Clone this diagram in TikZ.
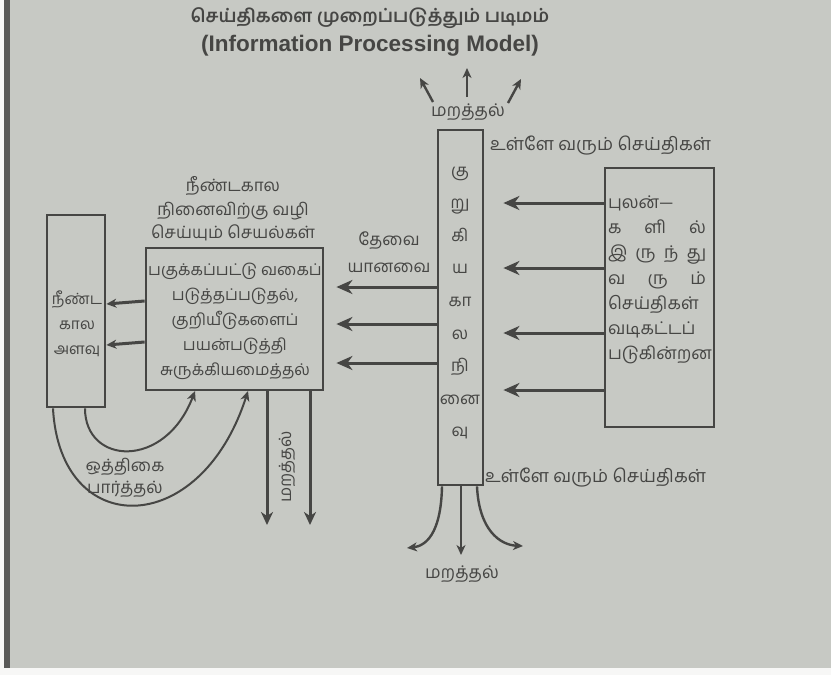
\documentclass[tikz,border=0pt]{standalone}
\usepackage{fontspec}
\setmainfont{Liberation Sans}
\newfontfamily\tamil[Script=Tamil]{Hind Madurai}
\usetikzlibrary{arrows.meta,calc}
\definecolor{paper}{RGB}{199,201,196}
\definecolor{ink}{RGB}{70,70,68}
\definecolor{edge}{RGB}{90,90,88}
\begin{document}
\begin{tikzpicture}[x=1pt,y=-1pt,
  ta/.style={text=ink,inner sep=0pt,font=\tamil\fontsize{17}{25}\selectfont},
  bx/.style={draw=ink,line width=2.8pt,inner sep=0pt},
  conn/.style={draw=ink,line width=3pt},
  bigtip/.style={conn,-{Stealth[length=16pt,width=14pt,inset=5pt]}},
  midtip/.style={conn,-{Stealth[length=13pt,width=12pt,inset=4pt]}},
  smalltip/.style={conn,-{Stealth[length=10pt,width=9pt,inset=3pt]}}]
\useasboundingbox (0,0) rectangle (831,675);
\fill[paper] (0,0) rectangle (831,675);
\fill[white!85!paper] (0,0) rectangle (4,675);
\fill[edge] (4,0) rectangle (10,668);
\fill[white!85!paper] (0,668) rectangle (831,675);

% titles
\node[text=ink,font=\tamil\bfseries\fontsize{18.2}{24}\selectfont] (t1) at (370,18) {செய்திகளை முறைப்படுத்தும் படிமம்};
\node[text=ink,font=\bfseries\fontsize{22.5}{26}\selectfont] (t2) at (370,46) {(Information Processing Model)};

% short term memory
\node[bx,minimum width=45pt,minimum height=355pt] (stm) at (460.5,307.5) {};
\node[ta,align=center,font=\tamil\fontsize{17}{32.6}\selectfont] (stmtext) at (460,303) {கு\\று\\கி\\ய\\கா\\ல\\நி\\னை\\வு};

% sensory
\node[bx,minimum width=109pt,minimum height=259pt] (sens) at (659.5,297.5) {};
\node[ta,text width=98pt,align=left,font=\tamil\fontsize{17.5}{25.2}\selectfont] (senstext) at (657,280)
 {புலன்—\\\makebox[\linewidth][s]{க\hfill ளி\hfill ல்}\\\makebox[\linewidth][s]{இ\hfill ரு\hfill ந்\hfill து}\\\makebox[\linewidth][s]{வ\hfill ரு\hfill ம்}\\செய்திகள்\\வடிகட்டப்\\படுகின்றன};

% process
\node[bx,minimum width=177pt,minimum height=142pt] (proc) at (234.5,319) {};
\node[ta,align=center,font=\tamil\fontsize{16.2}{25}\selectfont] (proctext) at (235,321) {பகுக்கப்பட்டு வகைப்\\படுத்தப்படுதல்,\\குறியீடுகளைப்\\பயன்படுத்தி\\சுருக்கியமைத்தல்};

% long term memory
\node[bx,minimum width=58pt,minimum height=192pt] (ltm) at (76,311) {};
\node[ta,align=center,font=\tamil\fontsize{15.5}{25}\selectfont] (ltmtext) at (77,324) {நீண்ட\\கால\\அளவு};

% labels
\node[ta,font=\tamil\fontsize{17.5}{25}\selectfont] (f1) at (468,112) {மறத்தல்};
\node[ta,font=\tamil\fontsize{17.5}{25}\selectfont] (f2) at (462,574) {மறத்தல்};
\node[ta,rotate=90] (f3) at (287,467) {மறத்தல்};
\node[ta,anchor=west,font=\tamil\fontsize{18}{25}\selectfont] (in1) at (490,146) {உள்ளே வரும் செய்திகள்};
\node[ta,anchor=west,font=\tamil\fontsize{18}{25}\selectfont] (in2) at (485,478) {உள்ளே வரும் செய்திகள்};
\node[ta,align=center,font=\tamil\fontsize{17}{27}\selectfont] (need) at (389,252) {தேவை\\யானவை};
\node[ta,align=center,font=\tamil\fontsize{17}{23.5}\selectfont] (ltmops) at (233,209) {நீண்டகால\\நினைவிற்கு வழி\\செய்யும் செயல்கள்};
\node[ta,align=center,font=\tamil\fontsize{17}{22}\selectfont] (rehearse) at (125,478) {ஒத்திகை\\பார்த்தல்};

% sensory -> stm
\foreach \y in {203,268,333,390}
  \draw[bigtip] (sens.west |- 0,\y) -- ([xshift=19pt]stm.east |- 0,\y);
% stm -> proc
\foreach \y in {287,324,363}
  \draw[bigtip] (stm.west |- 0,\y) -- ([xshift=12pt]proc.east |- 0,\y);
% proc -> ltm
\draw[smalltip] (proc.west |- 0,301) -- (ltm.east |- 0,304);
\draw[smalltip] (proc.west |- 0,342) -- (ltm.east |- 0,345);
% rehearsal loops
\draw[smalltip,line width=2pt] (85,0 |- ltm.south) .. controls (85,465) and (165,470) .. (195,391);
\draw[smalltip,line width=2pt] (53,0 |- ltm.south) .. controls (60,540) and (200,540) .. (248,391);
% forgetting from proc
\coordinate (d1) at (267,525);
\coordinate (d2) at (310,525);
\draw[midtip] (267,0 |- proc.south) -- (d1);
\draw[midtip] (310,0 |- proc.south) -- (d2);
% forgetting top
\coordinate (u1) at (420,78);
\coordinate (u2) at (467,68);
\coordinate (u3) at (521,79);
\draw[smalltip,line width=2.4pt] (433,102) -- (u1);
\draw[smalltip,line width=2.4pt] (467,97) -- (u2);
\draw[smalltip,line width=2.4pt] (508,103) -- (u3);
% forgetting bottom
\coordinate (b1) at (407,548);
\coordinate (b2) at (461,555);
\coordinate (b3) at (523,546);
\draw[smalltip,line width=2.4pt] (442,0 |- stm.south) .. controls (441,535) and (425,546) .. (b1);
\draw[smalltip,line width=2.4pt] (461,0 |- stm.south) -- (b2);
\draw[smalltip,line width=2.4pt] (477,0 |- stm.south) .. controls (479,530) and (500,545) .. (b3);
\end{tikzpicture}
\end{document}
